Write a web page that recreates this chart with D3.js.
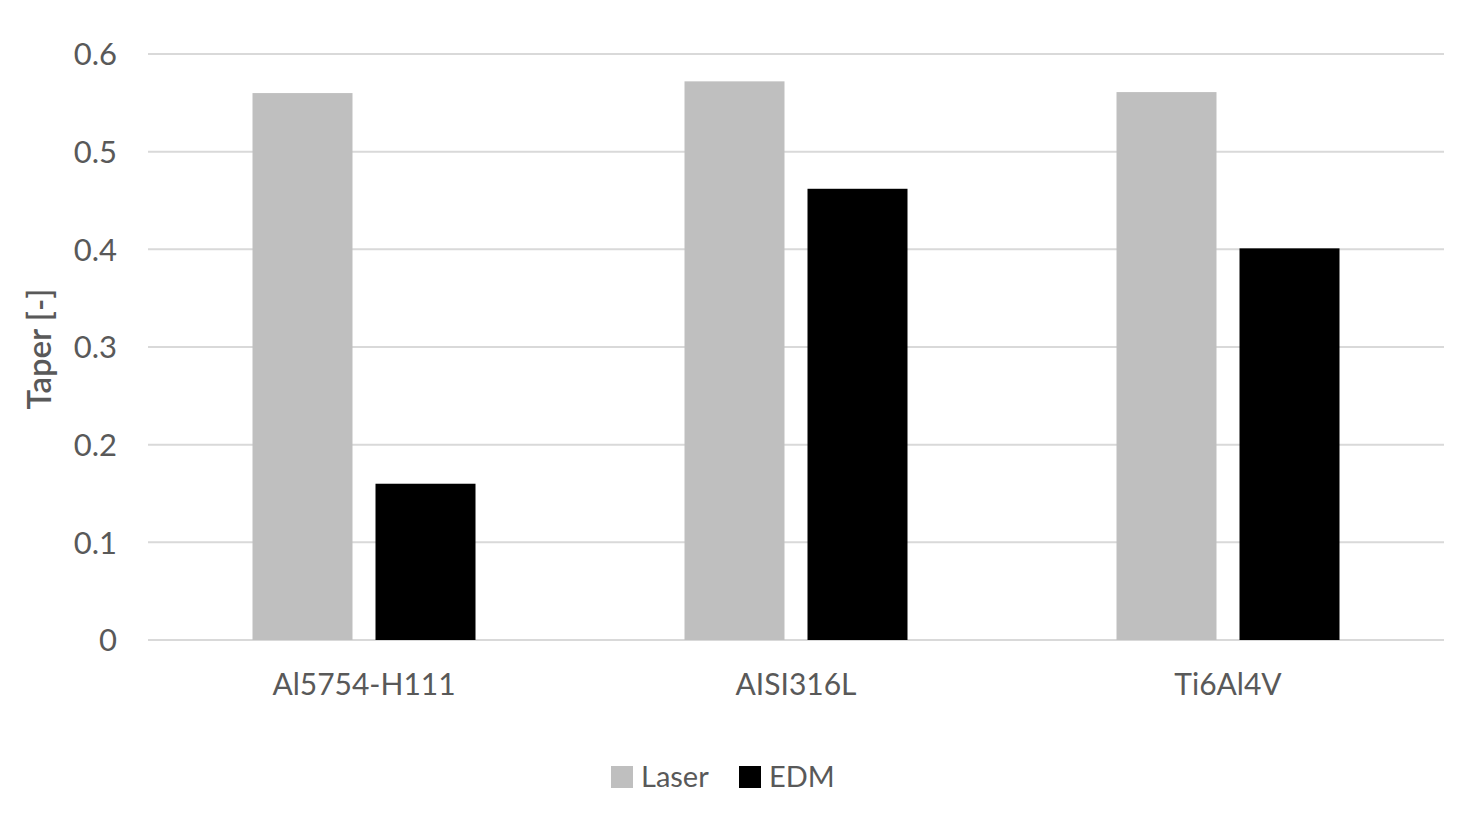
<!DOCTYPE html>
<html>
<head>
<meta charset="utf-8">
<script src="https://cdn.jsdelivr.net/npm/d3@7"></script>
<style>
  body { margin: 0; background: #fff; }
  text { font-family: Lato, "Noto Sans", sans-serif; fill: #595959; }
</style>
</head>
<body>
<div id="chart"></div>
<script>
// data
var categories = ["Al5754-H111", "AISI316L", "Ti6Al4V"];
var series = ["Laser", "EDM"];
var laser = [0.56, 0.572, 0.561];
var edm = [0.16, 0.462, 0.401];
var yTicks = [0, 0.1, 0.2, 0.3, 0.4, 0.5, 0.6];
var colors = ["#bfbfbf", "#000000"];

var W = 1474, H = 814;
var plotLeft = 148, plotRight = 1444, plotTop = 54, plotBottom = 640;

var svg = d3.select("#chart").append("svg")
    .attr("width", W)
    .attr("height", H);

var y = d3.scaleLinear().domain([0, 0.6]).range([plotBottom, plotTop]);
var x0 = d3.scaleBand().domain(categories).range([plotLeft, plotRight]);
var groupW = 223;
var x1 = d3.scaleBand().domain(series).range([0, groupW]).paddingInner(0.187);

// gridlines
svg.append("g")
    .selectAll("line")
    .data(yTicks)
    .enter().append("line")
    .attr("x1", plotLeft).attr("x2", plotRight)
    .attr("y1", function(d) { return y(d); })
    .attr("y2", function(d) { return y(d); })
    .attr("stroke", "#d9d9d9")
    .attr("stroke-width", 2);

// y axis labels
var yAxis = d3.axisLeft(y).tickValues(yTicks).tickSize(0).tickPadding(0)
    .tickFormat(function(d) { return d === 0 ? "0" : d3.format(".1f")(d); });
var ya = svg.append("g")
    .attr("transform", "translate(117,0)")
    .call(yAxis);
ya.select(".domain").remove();
ya.selectAll("text")
    .style("font-size", "31px")
    .attr("fill", "#595959")
    .attr("dy", "0.35em");

// bars
var rows = categories.map(function(c, i) { return { cat: c, vals: [laser[i], edm[i]] }; });
var groups = svg.append("g").selectAll("g")
    .data(rows)
    .enter().append("g")
    .attr("transform", function(d) {
      return "translate(" + (x0(d.cat) + (x0.bandwidth() - groupW) / 2) + ",0)";
    });
groups.selectAll("rect")
    .data(function(d) { return d.vals.map(function(v, j) { return { s: series[j], v: v, j: j }; }); })
    .enter().append("rect")
    .attr("x", function(d) { return x1(d.s); })
    .attr("width", x1.bandwidth())
    .attr("y", function(d) { return y(d.v); })
    .attr("height", function(d) { return y(0) - y(d.v); })
    .attr("fill", function(d) { return colors[d.j]; });

// x axis labels
var xAxis = d3.axisBottom(x0).tickSize(0).tickPadding(0);
var xa = svg.append("g")
    .attr("transform", "translate(0,695)")
    .call(xAxis);
xa.select(".domain").remove();
xa.selectAll("text")
    .style("font-size", "30px")
    .attr("fill", "#595959")
    .attr("y", 0)
    .attr("dy", 0);

// y title
svg.append("text")
    .attr("transform", "translate(51,349) rotate(-90)")
    .attr("text-anchor", "middle")
    .style("font-size", "33px")
    .style("font-weight", "600")
    .text("Taper [-]");

// legend
var legendX = [611, 739];
var leg = svg.append("g").selectAll("g")
    .data(series)
    .enter().append("g")
    .attr("transform", function(d, i) { return "translate(" + legendX[i] + ",766)"; });
leg.append("rect")
    .attr("width", 22).attr("height", 22)
    .attr("fill", function(d, i) { return colors[i]; });
leg.append("text")
    .attr("x", 30).attr("y", 21)
    .style("font-size", "29px")
    .text(function(d) { return d; });
</script>
</body>
</html>
